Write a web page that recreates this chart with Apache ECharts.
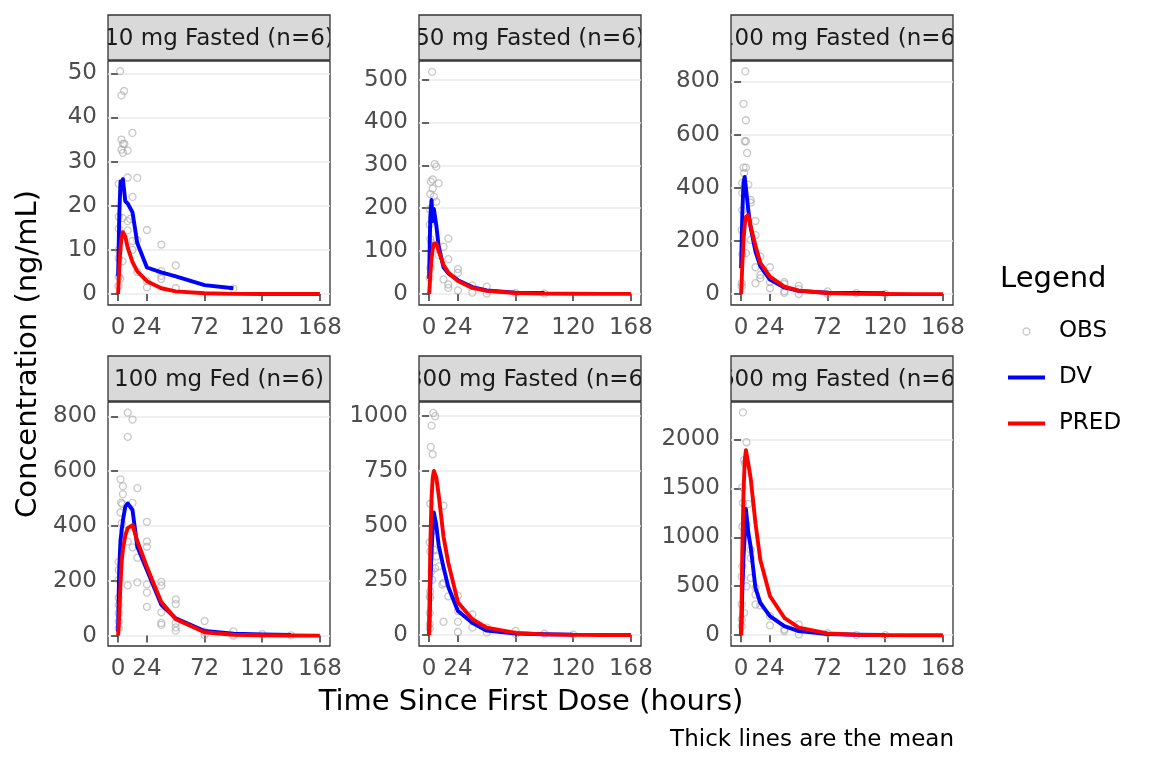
<!DOCTYPE html>
<html>
<head>
<meta charset="utf-8">
<script src="https://cdn.jsdelivr.net/npm/echarts@6/dist/echarts.min.js"></script>
<style>
  html, body { margin: 0; padding: 0; background: #fff; }
  #chart { width: 1152px; height: 768px; }
</style>
</head>
<body>
<div id="chart"></div>
<script>
// panel titles (facet strips)
var panelTitles = [
    "10 mg Fasted (n=6)", "50 mg Fasted (n=6)", "100 mg Fasted (n=6)",
    "100 mg Fed (n=6)", "300 mg Fasted (n=6)", "600 mg Fasted (n=6)"
];

// axis ticks
var xTicks = [0, 24, 72, 120, 168];
var yTicks1 = [0, 10, 20, 30, 40, 50];
var yTicks2 = [0, 100, 200, 300, 400, 500];
var yTicks3 = [0, 200, 400, 600, 800];
var yTicks4 = [0, 200, 400, 600, 800];
var yTicks5 = [0, 250, 500, 750, 1000];
var yTicks6 = [0, 500, 1000, 1500, 2000];

// y ranges (ggplot 5% expansion)
var yMin = [-2.5, -25.9, -41, -38, -50, -110];
var yMax = [52.8, 543.5, 877, 852, 1065, 2381];

// nominal sampling times for the mean lines (hours)
var sampleTimes = [0, 0.5, 1, 2, 3, 4, 6, 8, 12, 16, 24, 36, 48, 72, 96, 120, 144, 168];

// mean observed (DV)
var dv1 = [4, 11, 18, 25.5, 25, 26, 21, 20.5, 18.5, 11.5, 6, 4.9, 4, 2, 1.3, null, null, null];
var dv2 = [35, 110, 180, 219, 170, 198, 160, 110, 62, 48, 32, 16, 8, 3, 2, null, null, null];
var dv3 = [97, 200, 300, 420, 441, 400, 316, 250, 160, 105, 55, 25, 12, 5, 4, 3, null, null];
var dv4 = [15, 150, 250, 348, 355, 420, 470, 482, 458, 324, 239, 112, 63, 17, 7, 4, 2, null];
var dv5 = [0, 100, 220, 380, 480, 560, 500, 410, 310, 220, 110, 56, 20, 7, 4, 2, null, null];
var dv6 = [0, 200, 450, 800, 1000, 1290, 1050, 900, 480, 330, 195, 92, 42, 12, 5, 3, null, null];

// mean population prediction (PRED)
var pred1 = [0, 3, 6, 10.5, 13, 14, 13, 10.5, 7.2, 5.1, 2.9, 1.3, 0.6, 0.15, 0.03, 0.01, 0, 0];
var pred2 = [0, 20, 45, 80, 105, 117, 118, 100, 68, 50, 30, 14, 7, 2, 0.6, 0.2, 0.05, 0];
var pred3 = [0, 50, 110, 200, 260, 290, 297, 254, 182, 118, 66, 28, 13, 4, 1, 0.3, 0.1, 0];
var pred4 = [0, 30, 80, 190, 270, 315, 365, 392, 403, 345, 250, 122, 60, 12, 3, 1, 0.3, 0];
var pred5 = [0, 200, 400, 620, 720, 750, 720, 640, 450, 330, 150, 72, 34, 10, 3, 1, 0.3, 0];
var pred6 = [0, 400, 850, 1450, 1780, 1890, 1750, 1600, 1140, 770, 400, 178, 78, 18, 5, 1.5, 0.4, 0];

// individual observations [time, conc]
var obs1 = [
    [0.3, 1.8], [0.5, 3.9], [0.5, 8.1], [0.5, 10], [0.5, 14.8], [0.5, 17.5], [0.5, 25],
    [1.8, 3.5], [1.7, 50.5], [2.8, 45], [2.8, 35], [2.8, 32.7], [3.7, 17.2], [3.7, 7.4],
    [4.1, 34], [4.1, 32], [5, 46], [5.2, 34], [8, 32.5], [8, 26.4], [8, 16.5], [8, 14.4],
    [10, 17], [11.9, 36.5], [12, 22], [12, 12], [12, 10], [16, 26.3], [16, 12.2], [16, 5],
    [24, 14.5], [24, 2.9], [24, 1.5], [36, 11.2], [36, 5.2], [36, 4.1], [36, 3.4],
    [48, 6.5], [48, 1.3], [96, 1.2]
];
var obs2 = [
    [0.5, 198], [0.5, 162], [0.5, 37], [1, 233], [1, 128], [1, 60], [1.4, 262], [2, 119],
    [2.5, 518], [3, 267], [3, 246], [4, 227], [4.7, 303], [6, 297], [6, 215], [8, 258],
    [8, 91], [12, 110], [12, 34], [16, 129], [16, 81], [16, 22], [16, 14],
    [24, 58], [24, 49], [24, 8], [36, 20], [36, 3], [48, 17], [48, 1], [72, 2], [96, 1]
];
var obs3 = [
    [0.5, 241], [0.5, 41], [0.5, 29], [1, 418], [1, 380], [1, 316], [1, 150], [2, 716],
    [2, 476], [2.5, 455], [3, 575], [3.5, 838], [4, 654], [4, 575], [4, 476], [4, 154],
    [5, 531], [6, 412], [8, 354], [8, 344], [8, 204], [12, 275], [12, 222], [12, 101],
    [12, 41], [16, 141], [16, 72], [16, 60], [24, 101], [24, 45], [24, 22],
    [36, 45], [36, 38], [36, 11], [36, 5], [48, 31], [48, 19], [48, 0], [72, 10], [72, 0],
    [96, 4], [120, 1]
];
var obs4 = [
    [0.5, 269], [0.5, 239], [0.5, 203], [0.5, 137], [0.5, 112], [0.5, 81], [0.5, 51],
    [0.5, 27], [2, 570], [2, 449], [2.5, 485], [3, 410], [3.5, 480], [4, 545], [4, 516],
    [4, 385], [8, 813], [8, 725], [8, 343], [8, 183], [12, 788], [12, 484], [12, 322],
    [16, 538], [16, 284], [16, 194], [24, 415], [24, 343], [24, 324], [24, 187], [24, 157],
    [24, 105], [36, 196], [36, 182], [36, 85], [36, 46], [36, 39], [48, 132], [48, 115],
    [48, 46], [48, 30], [48, 18], [72, 53], [72, 14], [72, 2], [96, 15], [96, 0],
    [120, 5], [144, 1]
];
var obs5 = [
    [0.5, 423], [0.5, 177], [0.5, 101], [0.5, 50], [0.5, 30], [1, 600], [1, 382], [1, 200],
    [1, 170], [1.4, 860], [2, 957], [2, 291], [2.5, 253], [3, 826], [3.5, 1015], [4, 390],
    [4.5, 511], [5, 1000], [5, 480], [5, 306], [6, 359], [8, 314], [12, 591], [12, 238],
    [11, 231], [12, 61], [16, 177], [24, 180], [24, 109], [24, 61], [24, 14],
    [36, 94], [36, 64], [36, 34], [48, 34], [48, 11], [72, 19], [72, 4], [96, 6], [120, 2]
];
var obs6 = [
    [0.5, 600], [0.5, 314], [0.5, 160], [0.5, 92], [1, 1510], [1, 1110], [1, 703],
    [1.5, 2275], [1.5, 1348], [2.5, 1789], [2.5, 229], [3, 1755], [4.5, 1970], [4.5, 1128],
    [4.5, 500], [6, 1340], [8, 873], [8, 788], [8, 584], [12, 483], [12, 415], [12, 314],
    [16, 304], [24, 195], [24, 100], [36, 60], [36, 43], [48, 110], [48, 8], [72, 20],
    [96, 2], [120, 1]
];

var yTicks = [yTicks1, yTicks2, yTicks3, yTicks4, yTicks5, yTicks6];
var dvAll = [dv1, dv2, dv3, dv4, dv5, dv6];
var predAll = [pred1, pred2, pred3, pred4, pred5, pred6];
var obsAll = [obs1, obs2, obs3, obs4, obs5, obs6];

var FONT = "DejaVu Sans";
var colLeft = [108, 419, 731];
var rowTop = [61, 402];
var panelW = 222;
var panelH = 244;
var stripH = 45;

function pairs(ts, vs) {
    var out = [];
    for (var i = 0; i < ts.length; i++) {
        if (vs[i] !== null) out.push([ts[i], vs[i]]);
    }
    return out;
}

function plainNumber(v) {
    return String(v);
}

var grids = [], xAxes = [], yAxes = [], series = [], graphics = [];

for (var p = 0; p < 6; p++) {
    var pLeft = colLeft[p % 3];
    var pTop = rowTop[Math.floor(p / 3)];
    grids.push({
        left: pLeft, top: pTop, width: panelW, height: panelH,
        containLabel: false, outerBoundsMode: "none",
        show: true, borderColor: "#333333", borderWidth: 1.3,
        backgroundColor: "rgba(0,0,0,0)",
    });
    xAxes.push({
        gridIndex: p, type: "value", min: -8.4, max: 176.4,
        axisLine: { show: false },
        axisTick: { show: true, length: 7, customValues: xTicks, lineStyle: { color: "#333333", width: 1.5 } },
        axisLabel: { customValues: xTicks, formatter: plainNumber, color: "#4D4D4D", fontSize: 23, fontFamily: FONT, margin: 12 },
        splitLine: { show: false },
    });
    yAxes.push({
        gridIndex: p, type: "value", min: yMin[p], max: yMax[p],
        axisLine: { show: false },
        axisTick: { show: true, length: 7, customValues: yTicks[p], lineStyle: { color: "#333333", width: 1.5 } },
        axisLabel: { customValues: yTicks[p], formatter: plainNumber, color: "#4D4D4D", fontSize: 23, fontFamily: FONT, margin: 11 },
        splitLine: { show: true, lineStyle: { color: "#EBEBEB", width: 1.6 } },
    });
    series.push({
        type: "scatter", name: "OBS", xAxisIndex: p, yAxisIndex: p,
        data: obsAll[p], symbol: "circle", symbolSize: 7, silent: true, z: 2,
        itemStyle: { color: "rgba(0,0,0,0)", borderColor: "rgba(165,165,165,0.75)", borderWidth: 1.3 },
    });
    series.push({
        type: "line", name: "DV", xAxisIndex: p, yAxisIndex: p,
        data: pairs(sampleTimes, dvAll[p]), showSymbol: false, symbol: "none", z: 3,
        lineStyle: { color: "#0000FF", width: 3.9, join: "round" }, itemStyle: { color: "#0000FF" },
    });
    series.push({
        type: "line", name: "PRED", xAxisIndex: p, yAxisIndex: p,
        data: pairs(sampleTimes, predAll[p]), showSymbol: false, symbol: "none", z: 4,
        lineStyle: { color: "#FF0000", width: 3.9, join: "round" }, itemStyle: { color: "#FF0000" },
    });

    // strip: background, text, covers that clip the text, border on top
    var st = pTop - stripH - 1;
    graphics.push({ type: "rect", z: 10, silent: true,
        shape: { x: pLeft, y: st, width: panelW, height: stripH },
        style: { fill: "#D9D9D9" } });
    graphics.push({ type: "text", z: 11, silent: true, x: pLeft + panelW / 2, y: st + stripH / 2 + 2,
        style: { text: panelTitles[p], fill: "#1A1A1A", font: "23px '" + FONT + "'",
            textAlign: "center", textVerticalAlign: "middle", align: "center", verticalAlign: "middle" } });
    graphics.push({ type: "rect", z: 12, silent: true,
        shape: { x: pLeft - 30, y: st - 2, width: 30, height: stripH + 3 }, style: { fill: "#ffffff" } });
    graphics.push({ type: "rect", z: 12, silent: true,
        shape: { x: pLeft + panelW, y: st - 2, width: 30, height: stripH + 3 }, style: { fill: "#ffffff" } });
    graphics.push({ type: "rect", z: 13, silent: true,
        shape: { x: pLeft, y: st, width: panelW, height: stripH },
        style: { fill: "none", stroke: "#333333", lineWidth: 1.3 } });
}

graphics.push({ type: "text", z: 20, silent: true, x: 28, y: 354, rotation: Math.PI / 2,
    style: { text: "Concentration (ng/mL)", fill: "#000", font: "29px '" + FONT + "'",
        textAlign: "center", textVerticalAlign: "middle", align: "center", verticalAlign: "middle" } });
graphics.push({ type: "text", z: 20, silent: true, x: 531, y: 702,
    style: { text: "Time Since First Dose (hours)", fill: "#000", font: "29px '" + FONT + "'",
        textAlign: "center", textVerticalAlign: "middle", align: "center", verticalAlign: "middle" } });
graphics.push({ type: "text", z: 20, silent: true, x: 954, y: 740,
    style: { text: "Thick lines are the mean", fill: "#000", font: "23px '" + FONT + "'",
        textAlign: "right", textVerticalAlign: "middle", align: "right", verticalAlign: "middle" } });
graphics.push({ type: "text", z: 20, silent: true, x: 1000, y: 279,
    style: { text: "Legend", fill: "#000", font: "29px '" + FONT + "'",
        textAlign: "left", textVerticalAlign: "middle", align: "left", verticalAlign: "middle" } });

var myChart = echarts.init(document.getElementById("chart"), null, { renderer: "canvas" });

var option = {
    animation: false,
    backgroundColor: "#ffffff",
    grid: grids,
    xAxis: xAxes,
    yAxis: yAxes,
    legend: {
        orient: "vertical", left: 1003, top: 315,
        itemWidth: 37, itemHeight: 7, itemGap: 23, selectedMode: false,
        textStyle: { fontSize: 23, fontFamily: FONT, color: "#000", lineHeight: 23, padding: [0, 0, 0, 9] },
        data: [
            { name: "OBS", icon: "circle", itemStyle: { color: "rgba(0,0,0,0)", borderColor: "#BDBDBD", borderWidth: 1.3 } },
            { name: "DV", icon: "path://M0,0H37V4H0Z", itemStyle: { color: "#0000FF", borderWidth: 0 } },
            { name: "PRED", icon: "path://M0,0H37V4H0Z", itemStyle: { color: "#FF0000", borderWidth: 0 } },
        ],
    },
    graphic: graphics,
    series: series,
};
myChart.setOption(option);
</script>
</body>
</html>
